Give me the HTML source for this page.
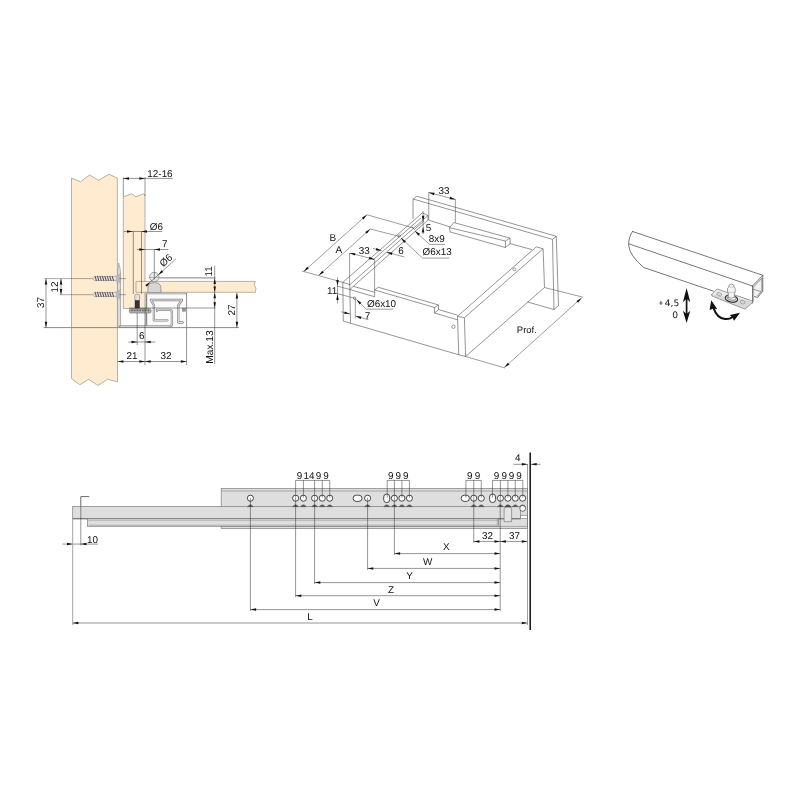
<!DOCTYPE html>
<html><head><meta charset="utf-8"><title>Drawing</title>
<style>
html,body{margin:0;padding:0;background:#fff;}
body{width:800px;height:800px;overflow:hidden;}
svg{display:block;will-change:transform;}
svg text{font-family:"Liberation Sans",Arial,sans-serif;fill:#111;text-rendering:geometricPrecision;}
</style></head><body>
<svg width="800" height="800" viewBox="0 0 800 800">
<rect x="0" y="0" width="800" height="800" fill="#ffffff"/>
<g id="left">
<path d="M71.50,178.00 L80.50,181.80 L89.50,175.00 L98.50,180.30 L109.00,174.30 L117.30,178.00 L117.50,381.80 L107.50,379.30 L97.80,385.50 L88.80,379.30 L79.80,384.80 L71.50,378.50 Z" stroke="#9a9488" stroke-width="0.7" fill="#ffecd0" stroke-linejoin="round" />
<path d="M123.30,196.80 L131.50,193.80 L136.00,196.80 L143.50,193.80 L145.00,195.00 L145.00,308.50 L123.30,308.50 Z" stroke="#9a9488" stroke-width="0.7" fill="#ffecd0" stroke-linejoin="round" />
<path d="M136.00,281.40 L255.30,281.40 L254.30,284.50 L256.00,288.50 L255.30,292.30 L136.00,292.30 Z" stroke="#9a9488" stroke-width="0.7" fill="#ffecd0" stroke-linejoin="round" />
<line x1="133.30" y1="231.50" x2="133.30" y2="294.00" stroke="#2b2b2b" stroke-width="0.5" />
<line x1="141.50" y1="231.50" x2="141.50" y2="294.00" stroke="#2b2b2b" stroke-width="0.5" />
<line x1="123.30" y1="177.30" x2="123.30" y2="196.50" stroke="#2b2b2b" stroke-width="0.5" />
<line x1="145.00" y1="177.30" x2="145.00" y2="196.00" stroke="#2b2b2b" stroke-width="0.5" />
<line x1="123.30" y1="178.40" x2="172.80" y2="178.40" stroke="#2b2b2b" stroke-width="0.5" />
<polygon points="123.30,178.40 129.00,177.15 129.00,179.65" fill="#111"/>
<polygon points="145.00,178.40 139.30,179.65 139.30,177.15" fill="#111"/>
<text x="160.00" y="176.60" text-anchor="middle" font-size="9.9" >12-16</text>
<line x1="123.80" y1="231.50" x2="162.30" y2="231.50" stroke="#2b2b2b" stroke-width="0.5" />
<polygon points="132.70,231.50 127.00,232.75 127.00,230.25" fill="#111"/>
<polygon points="141.25,231.50 146.95,230.25 146.95,232.75" fill="#111"/>
<text x="156.30" y="229.80" text-anchor="middle" font-size="9.9" >Ø6</text>
<line x1="136.80" y1="249.50" x2="168.30" y2="249.50" stroke="#2b2b2b" stroke-width="0.5" />
<polygon points="145.00,249.50 139.30,250.75 139.30,248.25" fill="#111"/>
<polygon points="154.30,249.50 160.00,248.25 160.00,250.75" fill="#111"/>
<text x="164.80" y="247.40" text-anchor="middle" font-size="9.9" >7</text>
<text x="168.20" y="262.80" text-anchor="middle" font-size="9.9" transform="rotate(-42 168.20 262.80)" >Ø6</text>
<path d="M147.9,292.3 L147.9,288 Q148.2,282.6 154.4,282.6 Q160.7,282.6 161,288 L161,292.3 Z" stroke="#8a8a8a" stroke-width="0.8" fill="#d6d6d6" stroke-linejoin="round" stroke-linecap="round" />
<circle cx="154.30" cy="277.00" r="4.7" stroke="#8a8a8a" stroke-width="0.8" fill="#e9e9e9"/>
<line x1="154.30" y1="249.50" x2="154.30" y2="279.50" stroke="#2b2b2b" stroke-width="0.5" />
<line x1="149.00" y1="277.50" x2="159.60" y2="277.50" stroke="#777" stroke-width="0.4" />
<line x1="176.00" y1="258.80" x2="146.50" y2="285.50" stroke="#2b2b2b" stroke-width="0.5" />
<polygon points="158.20,274.90 161.59,270.15 163.26,272.00" fill="#111"/>
<polygon points="150.30,282.10 146.91,286.85 145.24,285.00" fill="#111"/>
<line x1="159.00" y1="277.90" x2="215.50" y2="277.90" stroke="#9a9a9a" stroke-width="1.4" />
<rect x="146.20" y="293.40" width="40.30" height="33.60" rx="0" stroke="none" stroke-width="0" fill="#fbfbfb"/>
<path d="M146.40,327.00 L146.40,293.50 L186.60,293.50" stroke="#8a8a8a" stroke-width="1.6" fill="none" stroke-linejoin="round" />
<line x1="146.40" y1="293.50" x2="186.60" y2="293.50" stroke="#f0f0f0" stroke-width="0.5" />
<line x1="186.60" y1="293.00" x2="186.60" y2="365.00" stroke="#2b2b2b" stroke-width="0.5" />
<path d="M167.4,320.3 L153.9,320.3 L153.9,305.3 L150.9,300 L182,300 L178.3,305.3 L178.3,322.5 L182.8,322.5" stroke="#868686" stroke-width="2.3" fill="none" stroke-linejoin="round" stroke-linecap="round" />
<path d="M167.4,320.3 L153.9,320.3 L153.9,305.3 L150.9,300 L182,300 L178.3,305.3 L178.3,322.5 L182.8,322.5" stroke="#efefef" stroke-width="0.9" fill="none" stroke-linejoin="round" stroke-linecap="round" />
<path d="M157,311 L157,309.8 L169.5,309.8 Q171.9,309.8 171.9,312.2 L171.9,324 Q171.9,326.3 169.5,326.3 L121,326.3 Q119.2,326.3 119.2,324.5 L119.2,272.5" stroke="#868686" stroke-width="2.3" fill="none" stroke-linejoin="round" stroke-linecap="round" />
<path d="M157,311 L157,309.8 L169.5,309.8 Q171.9,309.8 171.9,312.2 L171.9,324 Q171.9,326.3 169.5,326.3 L121,326.3 Q119.2,326.3 119.2,324.5 L119.2,272.5" stroke="#efefef" stroke-width="0.9" fill="none" stroke-linejoin="round" stroke-linecap="round" />
<rect x="182.30" y="308.40" width="3.20" height="2.80" rx="0" stroke="#777" stroke-width="0.5" fill="#999"/>
<rect x="134.80" y="294.30" width="4.90" height="6.40" rx="1.5" stroke="#777" stroke-width="0.6" fill="#e2e2e2"/>
<rect x="135.00" y="300.60" width="4.50" height="7.60" rx="0" stroke="#222" stroke-width="0.4" fill="#333"/>
<rect x="129.30" y="308.70" width="21.80" height="4.40" rx="1.6" stroke="#777" stroke-width="0.6" fill="#aaa"/>
<line x1="131.00" y1="310.30" x2="149.00" y2="310.30" stroke="#444" stroke-width="0.9" stroke-dasharray="1.6 1.2"/>
<path d="M118.7,263.4 Q120.6,268 120.6,273 L120.6,326 L117.6,326 L117.6,272 Q118,267 118.7,263.4 Z" stroke="#8c8c8c" stroke-width="0.6" fill="#dedede" stroke-linejoin="round" stroke-linecap="round" />
<path d="M92.9,278.5 L94.6,276.4 L114.8,276.4 Q118.6,276.0 120.4,273.6 L120.4,283.4 Q118.6,281.0 114.8,280.6 L94.6,280.6 Z" stroke="#777" stroke-width="0.5" fill="#e4e4e4" stroke-linejoin="round" stroke-linecap="round" />
<path d="M115.2,276.4 Q118.6,276.0 120.4,273.6 L120.4,283.4 Q118.6,281.0 115.2,280.6 L116.4,278.5 Z" stroke="none" stroke-width="0" fill="#b9b9b9" stroke-linejoin="round" stroke-linecap="round" />
<line x1="95.00" y1="276.10" x2="96.50" y2="280.90" stroke="#505050" stroke-width="1.0" />
<line x1="97.45" y1="276.10" x2="98.95" y2="280.90" stroke="#505050" stroke-width="1.0" />
<line x1="99.90" y1="276.10" x2="101.40" y2="280.90" stroke="#505050" stroke-width="1.0" />
<line x1="102.35" y1="276.10" x2="103.85" y2="280.90" stroke="#505050" stroke-width="1.0" />
<line x1="104.80" y1="276.10" x2="106.30" y2="280.90" stroke="#505050" stroke-width="1.0" />
<line x1="107.25" y1="276.10" x2="108.75" y2="280.90" stroke="#505050" stroke-width="1.0" />
<line x1="109.70" y1="276.10" x2="111.20" y2="280.90" stroke="#505050" stroke-width="1.0" />
<line x1="112.15" y1="276.10" x2="113.65" y2="280.90" stroke="#505050" stroke-width="1.0" />
<path d="M92.9,294.5 L94.6,292.4 L114.8,292.4 Q118.6,292.0 120.4,289.6 L120.4,299.4 Q118.6,297.0 114.8,296.6 L94.6,296.6 Z" stroke="#777" stroke-width="0.5" fill="#e4e4e4" stroke-linejoin="round" stroke-linecap="round" />
<path d="M115.2,292.4 Q118.6,292.0 120.4,289.6 L120.4,299.4 Q118.6,297.0 115.2,296.6 L116.4,294.5 Z" stroke="none" stroke-width="0" fill="#b9b9b9" stroke-linejoin="round" stroke-linecap="round" />
<line x1="95.00" y1="292.10" x2="96.50" y2="296.90" stroke="#505050" stroke-width="1.0" />
<line x1="97.45" y1="292.10" x2="98.95" y2="296.90" stroke="#505050" stroke-width="1.0" />
<line x1="99.90" y1="292.10" x2="101.40" y2="296.90" stroke="#505050" stroke-width="1.0" />
<line x1="102.35" y1="292.10" x2="103.85" y2="296.90" stroke="#505050" stroke-width="1.0" />
<line x1="104.80" y1="292.10" x2="106.30" y2="296.90" stroke="#505050" stroke-width="1.0" />
<line x1="107.25" y1="292.10" x2="108.75" y2="296.90" stroke="#505050" stroke-width="1.0" />
<line x1="109.70" y1="292.10" x2="111.20" y2="296.90" stroke="#505050" stroke-width="1.0" />
<line x1="112.15" y1="292.10" x2="113.65" y2="296.90" stroke="#505050" stroke-width="1.0" />
<line x1="44.40" y1="278.60" x2="92.50" y2="278.60" stroke="#2b2b2b" stroke-width="0.4" />
<line x1="119.50" y1="278.60" x2="126.00" y2="278.60" stroke="#2b2b2b" stroke-width="0.4" />
<line x1="59.80" y1="294.70" x2="92.50" y2="294.70" stroke="#2b2b2b" stroke-width="0.4" />
<line x1="119.50" y1="294.70" x2="126.00" y2="294.70" stroke="#2b2b2b" stroke-width="0.4" />
<line x1="43.80" y1="327.60" x2="238.80" y2="327.60" stroke="#7d7d7d" stroke-width="0.9" />
<line x1="129.00" y1="308.00" x2="215.60" y2="308.00" stroke="#2b2b2b" stroke-width="0.5" />
<line x1="46.00" y1="278.75" x2="46.00" y2="327.50" stroke="#2b2b2b" stroke-width="0.5" />
<polygon points="46.00,278.75 47.25,284.45 44.75,284.45" fill="#111"/>
<polygon points="46.00,327.50 44.75,321.80 47.25,321.80" fill="#111"/>
<text x="44.50" y="302.60" text-anchor="middle" font-size="9.9" transform="rotate(-90 44.50 302.60)" >37</text>
<line x1="61.00" y1="278.75" x2="61.00" y2="294.80" stroke="#2b2b2b" stroke-width="0.5" />
<polygon points="61.00,278.75 62.25,284.45 59.75,284.45" fill="#111"/>
<polygon points="61.00,294.80 59.75,289.10 62.25,289.10" fill="#111"/>
<text x="58.20" y="286.90" text-anchor="middle" font-size="9.9" transform="rotate(-90 58.20 286.90)" >12</text>
<line x1="137.20" y1="313.00" x2="137.20" y2="345.00" stroke="#2b2b2b" stroke-width="0.5" />
<line x1="128.50" y1="342.00" x2="155.50" y2="342.00" stroke="#2b2b2b" stroke-width="0.5" />
<polygon points="137.20,342.00 131.50,343.25 131.50,340.75" fill="#111"/>
<polygon points="145.00,342.00 150.70,340.75 150.70,343.25" fill="#111"/>
<text x="141.70" y="339.10" text-anchor="middle" font-size="9.9" >6</text>
<line x1="117.70" y1="361.50" x2="186.60" y2="361.50" stroke="#2b2b2b" stroke-width="0.5" />
<line x1="145.00" y1="308.50" x2="145.00" y2="365.00" stroke="#2b2b2b" stroke-width="0.5" />
<polygon points="117.70,361.50 123.40,360.25 123.40,362.75" fill="#111"/>
<polygon points="145.00,361.50 139.30,362.75 139.30,360.25" fill="#111"/>
<polygon points="145.00,361.50 150.70,360.25 150.70,362.75" fill="#111"/>
<polygon points="186.60,361.50 180.90,362.75 180.90,360.25" fill="#111"/>
<text x="132.00" y="359.10" text-anchor="middle" font-size="9.9" >21</text>
<text x="166.00" y="359.10" text-anchor="middle" font-size="9.9" >32</text>
<line x1="214.70" y1="265.80" x2="214.70" y2="364.00" stroke="#2b2b2b" stroke-width="0.5" />
<polygon points="214.70,278.30 215.95,284.00 213.45,284.00" fill="#111"/>
<polygon points="214.70,292.30 213.45,286.60 215.95,286.60" fill="#111"/>
<polygon points="214.70,292.60 215.95,298.30 213.45,298.30" fill="#111"/>
<polygon points="214.70,307.90 213.45,302.20 215.95,302.20" fill="#111"/>
<text x="212.10" y="271.30" text-anchor="middle" font-size="9.9" transform="rotate(-90 212.10 271.30)" >11</text>
<text x="213.20" y="347.00" text-anchor="middle" font-size="10.2" transform="rotate(-90 213.20 347.00)" >Max.13</text>
<line x1="236.90" y1="293.00" x2="236.90" y2="327.50" stroke="#2b2b2b" stroke-width="0.5" />
<polygon points="236.90,292.80 238.15,298.50 235.65,298.50" fill="#111"/>
<polygon points="236.90,327.50 235.65,321.80 238.15,321.80" fill="#111"/>
<text x="235.20" y="310.00" text-anchor="middle" font-size="9.9" transform="rotate(-90 235.20 310.00)" >27</text>
</g>
<g id="mid">
<path d="M413.10,199.00 L416.90,196.25 L556.25,236.25 L552.50,239.40 Z" stroke="#3c3c3c" stroke-width="0.55" fill="none" stroke-linejoin="round" />
<line x1="413.00" y1="199.00" x2="413.00" y2="218.90" stroke="#3c3c3c" stroke-width="0.55" />
<line x1="552.50" y1="239.40" x2="554.00" y2="309.50" stroke="#3c3c3c" stroke-width="0.55" />
<line x1="556.25" y1="236.25" x2="558.50" y2="305.50" stroke="#3c3c3c" stroke-width="0.55" />
<line x1="554.00" y1="309.50" x2="558.50" y2="305.50" stroke="#3c3c3c" stroke-width="0.55" />
<line x1="527.50" y1="302.00" x2="554.00" y2="309.50" stroke="#3c3c3c" stroke-width="0.55" />
<line x1="428.50" y1="220.00" x2="450.00" y2="226.90" stroke="#3c3c3c" stroke-width="0.55" />
<line x1="510.00" y1="243.60" x2="532.00" y2="249.60" stroke="#3c3c3c" stroke-width="0.55" />
<path d="M449.60,227.70 L453.75,222.50 L510.00,238.10 L505.40,241.00 Z" stroke="#3c3c3c" stroke-width="0.55" fill="none" stroke-linejoin="round" />
<path d="M449.60,227.70 L450.00,231.90 L505.40,247.50 L505.40,241.00" stroke="#3c3c3c" stroke-width="0.55" fill="none" stroke-linejoin="round" />
<path d="M505.40,247.50 L510.00,244.00 L510.00,238.10" stroke="#3c3c3c" stroke-width="0.55" fill="none" stroke-linejoin="round" />
<path d="M457.50,316.30 L536.25,246.90 L543.10,248.75 L464.40,317.70 Z" stroke="#3c3c3c" stroke-width="0.55" fill="none" stroke-linejoin="round" />
<path d="M457.50,316.30 L458.75,354.75 L465.60,356.50 L464.40,317.70" stroke="#3c3c3c" stroke-width="0.55" fill="none" stroke-linejoin="round" />
<path d="M465.60,356.50 L544.50,287.50 L543.10,248.75" stroke="#3c3c3c" stroke-width="0.55" fill="none" stroke-linejoin="round" />
<circle cx="514.40" cy="269.40" r="1.5" stroke="#3c3c3c" stroke-width="0.5" fill="none"/>
<path d="M349.75,289.50 L374.70,296.75 L374.70,290.00 L434.50,307.50 L434.50,313.00 L457.50,319.80" stroke="#3c3c3c" stroke-width="0.55" fill="none" stroke-linejoin="round" />
<path d="M353.50,286.40 L374.70,292.30" stroke="#3c3c3c" stroke-width="0.55" fill="none" stroke-linejoin="round" />
<path d="M374.70,290.00 L378.20,287.20 L438.50,305.00 L438.50,309.50 L457.50,315.20" stroke="#3c3c3c" stroke-width="0.55" fill="none" stroke-linejoin="round" />
<line x1="434.50" y1="307.50" x2="438.50" y2="305.00" stroke="#3c3c3c" stroke-width="0.55" />
<line x1="434.50" y1="313.00" x2="438.50" y2="309.50" stroke="#3c3c3c" stroke-width="0.55" />
<line x1="350.50" y1="323.20" x2="458.75" y2="354.75" stroke="#3c3c3c" stroke-width="0.55" />
<circle cx="453.40" cy="326.70" r="1.7" stroke="#3c3c3c" stroke-width="0.5" fill="none"/>
<path d="M342.80,282.30 L343.30,321.10 L350.50,323.20 L349.75,284.70 L342.80,282.30" stroke="#3c3c3c" stroke-width="0.55" fill="none" stroke-linejoin="round" />
<line x1="342.80" y1="282.30" x2="422.40" y2="212.90" stroke="#3c3c3c" stroke-width="0.55" />
<line x1="349.75" y1="284.70" x2="428.00" y2="215.50" stroke="#3c3c3c" stroke-width="0.55" />
<line x1="349.75" y1="289.50" x2="428.00" y2="220.00" stroke="#3c3c3c" stroke-width="0.55" />
<line x1="373.00" y1="259.90" x2="421.00" y2="217.90" stroke="#3c3c3c" stroke-width="0.55" />
<line x1="422.40" y1="212.90" x2="428.00" y2="215.50" stroke="#3c3c3c" stroke-width="0.55" />
<line x1="428.00" y1="215.50" x2="428.00" y2="220.00" stroke="#3c3c3c" stroke-width="0.55" />
<path d="M412.20,226.60 L414.20,229.60 L424.00,221.00" stroke="#3c3c3c" stroke-width="0.55" fill="none" stroke-linejoin="round" />
<ellipse cx="399.30" cy="236.10" rx="1.3" ry="0.9" stroke="#3c3c3c" stroke-width="0.5" fill="none" transform="rotate(-40 399.30 236.10)"/>
<ellipse cx="354.70" cy="298.40" rx="1.0" ry="1.6" stroke="#3c3c3c" stroke-width="0.5" fill="none" transform="rotate(-30 354.70 298.40)"/>
<line x1="303.75" y1="271.50" x2="366.90" y2="214.75" stroke="#3c3c3c" stroke-width="0.5" />
<polygon points="303.75,271.50 307.15,266.76 308.83,268.62" fill="#111"/>
<polygon points="366.90,214.75 363.50,219.49 361.82,217.63" fill="#111"/>
<line x1="366.90" y1="214.75" x2="413.75" y2="228.00" stroke="#3c3c3c" stroke-width="0.5" />
<text x="332.75" y="240.70" text-anchor="middle" font-size="10" >B</text>
<line x1="318.75" y1="275.40" x2="370.25" y2="229.00" stroke="#3c3c3c" stroke-width="0.5" />
<polygon points="318.75,275.40 322.15,270.66 323.82,272.51" fill="#111"/>
<polygon points="370.25,229.00 366.85,233.74 365.18,231.89" fill="#111"/>
<line x1="370.25" y1="229.00" x2="399.00" y2="236.30" stroke="#3c3c3c" stroke-width="0.5" />
<text x="338.75" y="253.20" text-anchor="middle" font-size="10" >A</text>
<line x1="301.90" y1="271.00" x2="342.80" y2="282.30" stroke="#3c3c3c" stroke-width="0.5" />
<line x1="349.60" y1="253.00" x2="349.60" y2="285.00" stroke="#3c3c3c" stroke-width="0.5" />
<line x1="374.60" y1="259.40" x2="374.60" y2="290.00" stroke="#3c3c3c" stroke-width="0.5" />
<line x1="349.60" y1="253.00" x2="374.60" y2="259.40" stroke="#3c3c3c" stroke-width="0.5" />
<polygon points="349.60,253.00 355.43,253.20 354.81,255.62" fill="#111"/>
<polygon points="374.60,259.40 368.77,259.20 369.39,256.78" fill="#111"/>
<text x="364.20" y="253.50" text-anchor="middle" font-size="9.9" >33</text>
<line x1="373.00" y1="248.40" x2="381.60" y2="250.60" stroke="#3c3c3c" stroke-width="0.5" />
<line x1="386.60" y1="252.30" x2="404.50" y2="257.00" stroke="#3c3c3c" stroke-width="0.5" />
<polygon points="381.60,250.60 375.77,250.40 376.39,247.98" fill="#111"/>
<polygon points="386.60,252.30 392.43,252.54 391.80,254.96" fill="#111"/>
<text x="401.00" y="254.20" text-anchor="middle" font-size="9.9" >6</text>
<line x1="428.75" y1="192.20" x2="428.75" y2="220.00" stroke="#3c3c3c" stroke-width="0.5" />
<line x1="455.40" y1="199.20" x2="455.40" y2="222.50" stroke="#3c3c3c" stroke-width="0.5" />
<line x1="428.75" y1="192.50" x2="455.40" y2="199.40" stroke="#3c3c3c" stroke-width="0.5" />
<polygon points="428.75,192.50 434.58,192.72 433.95,195.14" fill="#111"/>
<polygon points="455.40,199.40 449.57,199.18 450.20,196.76" fill="#111"/>
<text x="444.00" y="193.50" text-anchor="middle" font-size="9.9" >33</text>
<line x1="423.10" y1="211.00" x2="423.10" y2="234.30" stroke="#3c3c3c" stroke-width="0.5" />
<polygon points="423.10,221.50 421.85,215.80 424.35,215.80" fill="#111"/>
<polygon points="423.10,226.80 424.35,232.50 421.85,232.50" fill="#111"/>
<text x="428.60" y="230.50" text-anchor="middle" font-size="9.9" >5</text>
<line x1="414.90" y1="230.90" x2="429.50" y2="244.40" stroke="#3c3c3c" stroke-width="0.5" />
<line x1="429.50" y1="244.40" x2="445.00" y2="244.40" stroke="#3c3c3c" stroke-width="0.5" />
<polygon points="414.90,230.90 419.98,233.76 418.32,235.63" fill="#111"/>
<text x="428.80" y="242.40" text-anchor="start" font-size="9.9" >8x9</text>
<line x1="401.00" y1="238.00" x2="422.50" y2="258.10" stroke="#3c3c3c" stroke-width="0.5" />
<line x1="422.50" y1="258.10" x2="449.40" y2="258.10" stroke="#3c3c3c" stroke-width="0.5" />
<polygon points="401.00,238.00 405.91,241.15 404.15,242.91" fill="#111"/>
<text x="422.60" y="255.20" text-anchor="start" font-size="9.9" >Ø6x13</text>
<line x1="337.50" y1="277.20" x2="337.50" y2="303.50" stroke="#3c3c3c" stroke-width="0.5" />
<polygon points="337.50,285.80 336.25,280.10 338.75,280.10" fill="#111"/>
<polygon points="337.50,294.20 338.75,299.90 336.25,299.90" fill="#111"/>
<line x1="336.80" y1="286.00" x2="349.75" y2="289.50" stroke="#3c3c3c" stroke-width="0.5" />
<line x1="336.80" y1="293.40" x2="354.70" y2="298.30" stroke="#3c3c3c" stroke-width="0.5" />
<text x="332.00" y="293.80" text-anchor="middle" font-size="9.9" >11</text>
<line x1="356.50" y1="299.60" x2="366.10" y2="309.20" stroke="#3c3c3c" stroke-width="0.5" />
<line x1="366.10" y1="309.20" x2="393.30" y2="309.20" stroke="#3c3c3c" stroke-width="0.5" />
<polygon points="356.50,299.60 361.41,302.75 359.65,304.51" fill="#111"/>
<text x="367.00" y="307.40" text-anchor="start" font-size="9.9" >Ø6x10</text>
<line x1="355.30" y1="298.50" x2="355.30" y2="318.40" stroke="#3c3c3c" stroke-width="0.5" />
<line x1="341.20" y1="311.80" x2="350.00" y2="314.00" stroke="#3c3c3c" stroke-width="0.5" />
<line x1="355.60" y1="316.20" x2="368.30" y2="319.70" stroke="#3c3c3c" stroke-width="0.5" />
<polygon points="350.00,314.00 344.17,313.83 344.77,311.40" fill="#111"/>
<polygon points="355.60,316.20 361.43,316.51 360.76,318.92" fill="#111"/>
<text x="367.60" y="318.60" text-anchor="middle" font-size="9.9" >7</text>
<line x1="465.60" y1="356.50" x2="504.90" y2="368.00" stroke="#3c3c3c" stroke-width="0.5" />
<line x1="544.50" y1="287.50" x2="583.00" y2="297.20" stroke="#3c3c3c" stroke-width="0.5" />
<line x1="504.40" y1="367.50" x2="581.50" y2="298.00" stroke="#3c3c3c" stroke-width="0.5" />
<polygon points="504.40,367.50 507.80,362.76 509.47,364.61" fill="#111"/>
<polygon points="581.50,298.00 578.10,302.74 576.43,300.89" fill="#111"/>
<text x="516.80" y="333.00" text-anchor="start" font-size="9.5" >Prof.</text>
</g>
<g id="right">
<path d="M632.5,231.5 L762.8,275.3" stroke="#3c3c3c" stroke-width="0.7" fill="none" stroke-linejoin="round" stroke-linecap="round" />
<path d="M629.4,244 L752.5,286" stroke="#3c3c3c" stroke-width="0.7" fill="none" stroke-linejoin="round" stroke-linecap="round" />
<path d="M632.5,231.5 Q628.6,237 628.6,245 Q629.5,255.5 643.75,267.5 L713.5,291.2" stroke="#3c3c3c" stroke-width="0.7" fill="none" stroke-linejoin="round" stroke-linecap="round" />
<path d="M752.5,286 L762.8,275.3 L762.8,291.3 L757.5,297.5 L754.6,296.6" stroke="#3c3c3c" stroke-width="0.7" fill="#f3f3f3" stroke-linejoin="round" stroke-linecap="round" />
<path d="M753.6,287 L761.8,278.3 L761.8,290.6 L757.4,296" stroke="#3c3c3c" stroke-width="0.5" fill="none" stroke-linejoin="round" stroke-linecap="round" />
<path d="M753.8,289.5 L761,291.5" stroke="#3c3c3c" stroke-width="0.5" fill="none" stroke-linejoin="round" stroke-linecap="round" />
<path d="M752.5,286 L752.5,303" stroke="#3c3c3c" stroke-width="0.7" fill="none" stroke-linejoin="round" stroke-linecap="round" />
<path d="M753.6,287 L753.6,302" stroke="#3c3c3c" stroke-width="0.4" fill="none" stroke-linejoin="round" stroke-linecap="round" />
<path d="M737.5,296.3 L752,301.3" stroke="#3c3c3c" stroke-width="0.5" fill="none" stroke-linejoin="round" stroke-linecap="round" />
<path d="M711.8,294.5 L717,289 L752.5,301 L745,307.6 Z" stroke="#666" stroke-width="0.6" fill="#ececec" stroke-linejoin="round" stroke-linecap="round" />
<path d="M711.8,294.5 L711.9,296 L745,309.2 L752.5,302.6 L752.5,301" stroke="#666" stroke-width="0.6" fill="#d8d8d8" stroke-linejoin="round" stroke-linecap="round" />
<ellipse cx="719.20" cy="294.20" rx="2.6" ry="1.6" stroke="#777" stroke-width="0.5" fill="#dcdcdc" transform="rotate(18 719.20 294.20)"/>
<ellipse cx="742.60" cy="302.20" rx="2.6" ry="1.6" stroke="#777" stroke-width="0.5" fill="#dcdcdc" transform="rotate(18 742.60 302.20)"/>
<ellipse cx="731.40" cy="298.60" rx="6.3" ry="3.5" stroke="#222" stroke-width="1.0" fill="#cfcfcf" transform="rotate(12 731.40 298.60)"/>
<ellipse cx="731.40" cy="297.60" rx="4.6" ry="2.4" stroke="#666" stroke-width="0.6" fill="#f2f2f2" transform="rotate(12 731.40 297.60)"/>
<path d="M728.3,297.3 L728.3,293 L727.5,292 L727.5,288.2 L729,286.8 L729,285.2 Q731.4,283 734,285.2 L734,286.8 L735.2,288.2 L735.2,292 L734.4,293 L734.4,297.3 Q731.4,299 728.3,297.3 Z" stroke="#666" stroke-width="0.6" fill="#f4f4f4" stroke-linejoin="round" stroke-linecap="round" />
<path d="M727.5,292 Q731.4,293.6 735.2,292" stroke="#888" stroke-width="0.4" fill="none" stroke-linejoin="round" stroke-linecap="round" />
<path d="M729,286.8 Q731.4,287.8 734,286.8" stroke="#888" stroke-width="0.4" fill="none" stroke-linejoin="round" stroke-linecap="round" />
<line x1="686.60" y1="298.00" x2="686.60" y2="314.00" stroke="#111" stroke-width="1.7" />
<polygon points="686.6,288.1 690.3,302.2 687.5,299.6 685.7,299.6 682.9,302.2" fill="#111"/>
<polygon points="686.6,323.1 690.3,310.8 687.5,313.2 685.7,313.2 682.9,310.8" fill="#111"/>
<path d="M713.4,307.8 Q717,318.2 725,319 Q729.5,319.4 732.6,317" stroke="#111" stroke-width="2.0" fill="none" stroke-linejoin="round" stroke-linecap="round" />
<polygon points="711.25,300.3 717.3,309.3 713.5,308.4 709.6,310.1" fill="#111"/>
<polygon points="740,312.8 734.1,320.7 732.2,317.3 729.9,314.9" fill="#111"/>
<text x="679.30" y="306.10" text-anchor="end" font-size="9.1" style="font-family:DejaVu Sans, Verdana, sans-serif" >4,5</text>
<text x="661.00" y="305.40" text-anchor="middle" font-size="6.4" style="font-family:DejaVu Sans, Verdana, sans-serif" font-weight="bold">+</text>
<text x="678.00" y="317.50" text-anchor="end" font-size="9.1" style="font-family:DejaVu Sans, Verdana, sans-serif" >0</text>
</g>
<g id="bottom">
<rect x="221.20" y="488.60" width="306.30" height="39.90" rx="0" stroke="#7d7d7d" stroke-width="0.7" fill="#dedede"/>
<line x1="221.20" y1="491.00" x2="527.50" y2="491.00" stroke="#7d7d7d" stroke-width="0.6" />
<line x1="221.20" y1="526.40" x2="527.50" y2="526.40" stroke="#7d7d7d" stroke-width="0.6" />
<rect x="72.70" y="506.40" width="448.00" height="12.30" rx="0" stroke="#7d7d7d" stroke-width="0.7" fill="#dedede"/>
<line x1="72.70" y1="518.80" x2="520.70" y2="518.80" stroke="#6c6c6c" stroke-width="1.0" />
<rect x="87.50" y="518.70" width="410.90" height="7.60" rx="0" stroke="#7d7d7d" stroke-width="0.7" fill="#dedede"/>
<line x1="87.50" y1="520.20" x2="497.30" y2="520.20" stroke="#7d7d7d" stroke-width="0.5" />
<line x1="497.30" y1="518.70" x2="497.30" y2="525.20" stroke="#7d7d7d" stroke-width="0.5" />
<line x1="88.70" y1="525.20" x2="497.30" y2="525.20" stroke="#7d7d7d" stroke-width="0.5" />
<rect x="520.70" y="515.40" width="6.80" height="3.10" rx="0" stroke="#7d7d7d" stroke-width="0.6" fill="#fff"/>
<path d="M504.1,521.3 L504.1,509 Q504.1,505.6 507.8,505.6 Q511.6,505.6 511.6,509 L511.6,521.3 Z" stroke="#7d7d7d" stroke-width="0.7" fill="#e4e4e4" stroke-linejoin="round" stroke-linecap="round" />
<path d="M505.6,506.6 Q507.8,504.8 510.2,506.6 Z" stroke="#555" stroke-width="0.5" fill="#666" stroke-linejoin="round" stroke-linecap="round" />
<circle cx="250.40" cy="498.20" r="3.05" stroke="#2a2a2a" stroke-width="0.85" fill="#fff"/>
<path d="M247.80,506.4 Q250.40,503.2 253.00,506.4 Z" stroke="#444" stroke-width="0.5" fill="#555" stroke-linejoin="round" stroke-linecap="round" />
<circle cx="295.60" cy="498.20" r="3.05" stroke="#2a2a2a" stroke-width="0.85" fill="#fff"/>
<path d="M293.00,506.4 Q295.60,503.2 298.20,506.4 Z" stroke="#444" stroke-width="0.5" fill="#555" stroke-linejoin="round" stroke-linecap="round" />
<circle cx="303.40" cy="498.20" r="3.05" stroke="#2a2a2a" stroke-width="0.85" fill="#fff"/>
<path d="M300.80,506.4 Q303.40,503.2 306.00,506.4 Z" stroke="#444" stroke-width="0.5" fill="#555" stroke-linejoin="round" stroke-linecap="round" />
<circle cx="314.60" cy="498.20" r="3.05" stroke="#2a2a2a" stroke-width="0.85" fill="#fff"/>
<path d="M312.00,506.4 Q314.60,503.2 317.20,506.4 Z" stroke="#444" stroke-width="0.5" fill="#555" stroke-linejoin="round" stroke-linecap="round" />
<circle cx="322.25" cy="498.20" r="3.05" stroke="#2a2a2a" stroke-width="0.85" fill="#fff"/>
<path d="M319.65,506.4 Q322.25,503.2 324.85,506.4 Z" stroke="#444" stroke-width="0.5" fill="#555" stroke-linejoin="round" stroke-linecap="round" />
<circle cx="329.75" cy="498.20" r="3.05" stroke="#2a2a2a" stroke-width="0.85" fill="#fff"/>
<path d="M327.15,506.4 Q329.75,503.2 332.35,506.4 Z" stroke="#444" stroke-width="0.5" fill="#555" stroke-linejoin="round" stroke-linecap="round" />
<circle cx="367.60" cy="498.20" r="3.05" stroke="#2a2a2a" stroke-width="0.85" fill="#fff"/>
<path d="M365.00,506.4 Q367.60,503.2 370.20,506.4 Z" stroke="#444" stroke-width="0.5" fill="#555" stroke-linejoin="round" stroke-linecap="round" />
<circle cx="394.40" cy="498.20" r="3.05" stroke="#2a2a2a" stroke-width="0.85" fill="#fff"/>
<path d="M391.80,506.4 Q394.40,503.2 397.00,506.4 Z" stroke="#444" stroke-width="0.5" fill="#555" stroke-linejoin="round" stroke-linecap="round" />
<circle cx="401.90" cy="498.20" r="3.05" stroke="#2a2a2a" stroke-width="0.85" fill="#fff"/>
<path d="M399.30,506.4 Q401.90,503.2 404.50,506.4 Z" stroke="#444" stroke-width="0.5" fill="#555" stroke-linejoin="round" stroke-linecap="round" />
<circle cx="409.40" cy="498.20" r="3.05" stroke="#2a2a2a" stroke-width="0.85" fill="#fff"/>
<path d="M406.80,506.4 Q409.40,503.2 412.00,506.4 Z" stroke="#444" stroke-width="0.5" fill="#555" stroke-linejoin="round" stroke-linecap="round" />
<circle cx="473.75" cy="498.20" r="3.05" stroke="#2a2a2a" stroke-width="0.85" fill="#fff"/>
<path d="M471.15,506.4 Q473.75,503.2 476.35,506.4 Z" stroke="#444" stroke-width="0.5" fill="#555" stroke-linejoin="round" stroke-linecap="round" />
<circle cx="481.25" cy="498.20" r="3.05" stroke="#2a2a2a" stroke-width="0.85" fill="#fff"/>
<path d="M478.65,506.4 Q481.25,503.2 483.85,506.4 Z" stroke="#444" stroke-width="0.5" fill="#555" stroke-linejoin="round" stroke-linecap="round" />
<circle cx="500.40" cy="498.20" r="3.05" stroke="#2a2a2a" stroke-width="0.85" fill="#fff"/>
<path d="M497.80,506.4 Q500.40,503.2 503.00,506.4 Z" stroke="#444" stroke-width="0.5" fill="#555" stroke-linejoin="round" stroke-linecap="round" />
<circle cx="507.90" cy="498.20" r="3.05" stroke="#2a2a2a" stroke-width="0.85" fill="#fff"/>
<path d="M505.30,506.4 Q507.90,503.2 510.50,506.4 Z" stroke="#444" stroke-width="0.5" fill="#555" stroke-linejoin="round" stroke-linecap="round" />
<circle cx="515.25" cy="498.20" r="3.05" stroke="#2a2a2a" stroke-width="0.85" fill="#fff"/>
<path d="M512.65,506.4 Q515.25,503.2 517.85,506.4 Z" stroke="#444" stroke-width="0.5" fill="#555" stroke-linejoin="round" stroke-linecap="round" />
<circle cx="522.60" cy="498.20" r="3.05" stroke="#2a2a2a" stroke-width="0.85" fill="#fff"/>
<path d="M520.00,506.4 Q522.60,503.2 525.20,506.4 Z" stroke="#444" stroke-width="0.5" fill="#555" stroke-linejoin="round" stroke-linecap="round" />
<path d="M505.3,506.6 Q507.9,503.4 510.5,506.6 Z" stroke="#444" stroke-width="0.5" fill="#555" stroke-linejoin="round" stroke-linecap="round" />
<rect x="353.10" y="495.20" width="8.90" height="6.20" rx="3.1" stroke="#2a2a2a" stroke-width="0.85" fill="#fff"/>
<rect x="461.20" y="495.20" width="8.20" height="6.20" rx="3.1" stroke="#2a2a2a" stroke-width="0.85" fill="#fff"/>
<rect x="383.70" y="494.00" width="6.00" height="8.60" rx="3.0" stroke="#2a2a2a" stroke-width="0.85" fill="#fff"/>
<rect x="489.60" y="494.00" width="6.00" height="8.60" rx="3.0" stroke="#2a2a2a" stroke-width="0.85" fill="#fff"/>
<path d="M384.1,506.4 Q386.7,503.2 389.3,506.4 Z" stroke="#444" stroke-width="0.5" fill="#555" stroke-linejoin="round" stroke-linecap="round" />
<circle cx="522.70" cy="508.40" r="2.9" stroke="#333" stroke-width="0.7" fill="#fff"/>
<path d="M89.40,496.60 L80.80,496.60 L80.80,506.40" stroke="#5a5a5a" stroke-width="0.9" fill="none" stroke-linejoin="round" />
<line x1="80.80" y1="506.40" x2="80.80" y2="545.50" stroke="#2b2b2b" stroke-width="0.5" />
<line x1="62.50" y1="544.10" x2="98.00" y2="544.10" stroke="#2b2b2b" stroke-width="0.5" />
<polygon points="72.70,544.10 67.00,545.35 67.00,542.85" fill="#111"/>
<polygon points="80.80,544.10 86.50,542.85 86.50,545.35" fill="#111"/>
<text x="92.60" y="542.80" text-anchor="middle" font-size="9.9" >10</text>
<line x1="72.70" y1="518.70" x2="72.70" y2="625.00" stroke="#9a9a9a" stroke-width="0.9" />
<line x1="295.60" y1="480.40" x2="329.75" y2="480.40" stroke="#2b2b2b" stroke-width="0.5" />
<line x1="295.60" y1="480.40" x2="295.60" y2="497.50" stroke="#2b2b2b" stroke-width="0.5" />
<line x1="303.40" y1="480.40" x2="303.40" y2="497.50" stroke="#2b2b2b" stroke-width="0.5" />
<line x1="314.60" y1="480.40" x2="314.60" y2="497.50" stroke="#2b2b2b" stroke-width="0.5" />
<line x1="322.25" y1="480.40" x2="322.25" y2="497.50" stroke="#2b2b2b" stroke-width="0.5" />
<line x1="329.75" y1="480.40" x2="329.75" y2="497.50" stroke="#2b2b2b" stroke-width="0.5" />
<text x="299.50" y="478.90" text-anchor="middle" font-size="9.9" >9</text>
<text x="309.00" y="478.90" text-anchor="middle" font-size="9.9" >14</text>
<text x="318.43" y="478.90" text-anchor="middle" font-size="9.9" >9</text>
<text x="326.00" y="478.90" text-anchor="middle" font-size="9.9" >9</text>
<line x1="387.20" y1="480.40" x2="409.40" y2="480.40" stroke="#2b2b2b" stroke-width="0.5" />
<line x1="387.20" y1="480.40" x2="387.20" y2="497.50" stroke="#2b2b2b" stroke-width="0.5" />
<line x1="394.40" y1="480.40" x2="394.40" y2="497.50" stroke="#2b2b2b" stroke-width="0.5" />
<line x1="401.90" y1="480.40" x2="401.90" y2="497.50" stroke="#2b2b2b" stroke-width="0.5" />
<line x1="409.40" y1="480.40" x2="409.40" y2="497.50" stroke="#2b2b2b" stroke-width="0.5" />
<text x="390.80" y="478.90" text-anchor="middle" font-size="9.9" >9</text>
<text x="398.15" y="478.90" text-anchor="middle" font-size="9.9" >9</text>
<text x="405.65" y="478.90" text-anchor="middle" font-size="9.9" >9</text>
<line x1="465.90" y1="480.40" x2="481.25" y2="480.40" stroke="#2b2b2b" stroke-width="0.5" />
<line x1="465.90" y1="480.40" x2="465.90" y2="497.50" stroke="#2b2b2b" stroke-width="0.5" />
<line x1="473.75" y1="480.40" x2="473.75" y2="497.50" stroke="#2b2b2b" stroke-width="0.5" />
<line x1="481.25" y1="480.40" x2="481.25" y2="497.50" stroke="#2b2b2b" stroke-width="0.5" />
<text x="469.82" y="478.90" text-anchor="middle" font-size="9.9" >9</text>
<text x="477.50" y="478.90" text-anchor="middle" font-size="9.9" >9</text>
<line x1="492.50" y1="480.40" x2="522.80" y2="480.40" stroke="#2b2b2b" stroke-width="0.5" />
<line x1="492.50" y1="480.40" x2="492.50" y2="497.50" stroke="#2b2b2b" stroke-width="0.5" />
<line x1="500.40" y1="480.40" x2="500.40" y2="497.50" stroke="#2b2b2b" stroke-width="0.5" />
<line x1="507.90" y1="480.40" x2="507.90" y2="497.50" stroke="#2b2b2b" stroke-width="0.5" />
<line x1="515.25" y1="480.40" x2="515.25" y2="497.50" stroke="#2b2b2b" stroke-width="0.5" />
<line x1="522.80" y1="480.40" x2="522.80" y2="497.50" stroke="#2b2b2b" stroke-width="0.5" />
<text x="496.45" y="478.90" text-anchor="middle" font-size="9.9" >9</text>
<text x="504.15" y="478.90" text-anchor="middle" font-size="9.9" >9</text>
<text x="511.57" y="478.90" text-anchor="middle" font-size="9.9" >9</text>
<text x="519.02" y="478.90" text-anchor="middle" font-size="9.9" >9</text>
<line x1="250.40" y1="497.80" x2="250.40" y2="611.00" stroke="#2b2b2b" stroke-width="0.5" />
<line x1="295.60" y1="497.80" x2="295.60" y2="597.00" stroke="#2b2b2b" stroke-width="0.5" />
<line x1="314.60" y1="497.80" x2="314.60" y2="584.00" stroke="#2b2b2b" stroke-width="0.5" />
<line x1="367.60" y1="497.80" x2="367.60" y2="569.80" stroke="#2b2b2b" stroke-width="0.5" />
<line x1="394.40" y1="497.80" x2="394.40" y2="555.00" stroke="#2b2b2b" stroke-width="0.5" />
<line x1="473.75" y1="497.80" x2="473.75" y2="543.00" stroke="#2b2b2b" stroke-width="0.5" />
<line x1="500.20" y1="497.50" x2="500.20" y2="611.00" stroke="#2b2b2b" stroke-width="0.5" />
<line x1="394.40" y1="553.60" x2="500.20" y2="553.60" stroke="#2b2b2b" stroke-width="0.5" />
<polygon points="394.40,553.60 400.10,552.35 400.10,554.85" fill="#111"/>
<polygon points="500.20,553.60 494.50,554.85 494.50,552.35" fill="#111"/>
<text x="446.40" y="550.40" text-anchor="middle" font-size="9.9" >X</text>
<line x1="367.60" y1="568.40" x2="500.20" y2="568.40" stroke="#2b2b2b" stroke-width="0.5" />
<polygon points="367.60,568.40 373.30,567.15 373.30,569.65" fill="#111"/>
<polygon points="500.20,568.40 494.50,569.65 494.50,567.15" fill="#111"/>
<text x="427.60" y="565.20" text-anchor="middle" font-size="9.9" >W</text>
<line x1="314.60" y1="582.60" x2="500.20" y2="582.60" stroke="#2b2b2b" stroke-width="0.5" />
<polygon points="314.60,582.60 320.30,581.35 320.30,583.85" fill="#111"/>
<polygon points="500.20,582.60 494.50,583.85 494.50,581.35" fill="#111"/>
<text x="409.60" y="579.40" text-anchor="middle" font-size="9.9" >Y</text>
<line x1="295.60" y1="595.70" x2="500.20" y2="595.70" stroke="#2b2b2b" stroke-width="0.5" />
<polygon points="295.60,595.70 301.30,594.45 301.30,596.95" fill="#111"/>
<polygon points="500.20,595.70 494.50,596.95 494.50,594.45" fill="#111"/>
<text x="391.00" y="592.50" text-anchor="middle" font-size="9.9" >Z</text>
<line x1="250.40" y1="609.60" x2="500.20" y2="609.60" stroke="#2b2b2b" stroke-width="0.5" />
<polygon points="250.40,609.60 256.10,608.35 256.10,610.85" fill="#111"/>
<polygon points="500.20,609.60 494.50,610.85 494.50,608.35" fill="#111"/>
<text x="376.60" y="606.40" text-anchor="middle" font-size="9.9" >V</text>
<line x1="72.70" y1="623.00" x2="527.50" y2="623.00" stroke="#2b2b2b" stroke-width="0.5" />
<polygon points="72.70,623.00 78.40,621.75 78.40,624.25" fill="#111"/>
<polygon points="527.50,623.00 521.80,624.25 521.80,621.75" fill="#111"/>
<text x="310.00" y="619.50" text-anchor="middle" font-size="9.9" >L</text>
<line x1="473.75" y1="541.40" x2="527.50" y2="541.40" stroke="#2b2b2b" stroke-width="0.5" />
<polygon points="473.75,541.40 479.45,540.15 479.45,542.65" fill="#111"/>
<polygon points="500.20,541.40 494.50,542.65 494.50,540.15" fill="#111"/>
<polygon points="500.20,541.40 505.90,540.15 505.90,542.65" fill="#111"/>
<polygon points="527.50,541.40 521.80,542.65 521.80,540.15" fill="#111"/>
<text x="487.40" y="538.80" text-anchor="middle" font-size="9.9" >32</text>
<text x="514.40" y="538.80" text-anchor="middle" font-size="9.9" >37</text>
<line x1="527.50" y1="464.00" x2="527.50" y2="625.00" stroke="#777" stroke-width="0.7" />
<line x1="530.20" y1="452.50" x2="530.20" y2="630.00" stroke="#111" stroke-width="1.5" />
<line x1="513.50" y1="464.30" x2="527.50" y2="464.30" stroke="#2b2b2b" stroke-width="0.5" />
<line x1="530.90" y1="464.30" x2="540.50" y2="464.30" stroke="#2b2b2b" stroke-width="0.5" />
<polygon points="527.50,464.30 521.80,465.55 521.80,463.05" fill="#111"/>
<polygon points="531.00,464.30 536.70,463.05 536.70,465.55" fill="#111"/>
<text x="517.80" y="461.40" text-anchor="middle" font-size="9.9" >4</text>
</g>
</svg>
</body></html>
